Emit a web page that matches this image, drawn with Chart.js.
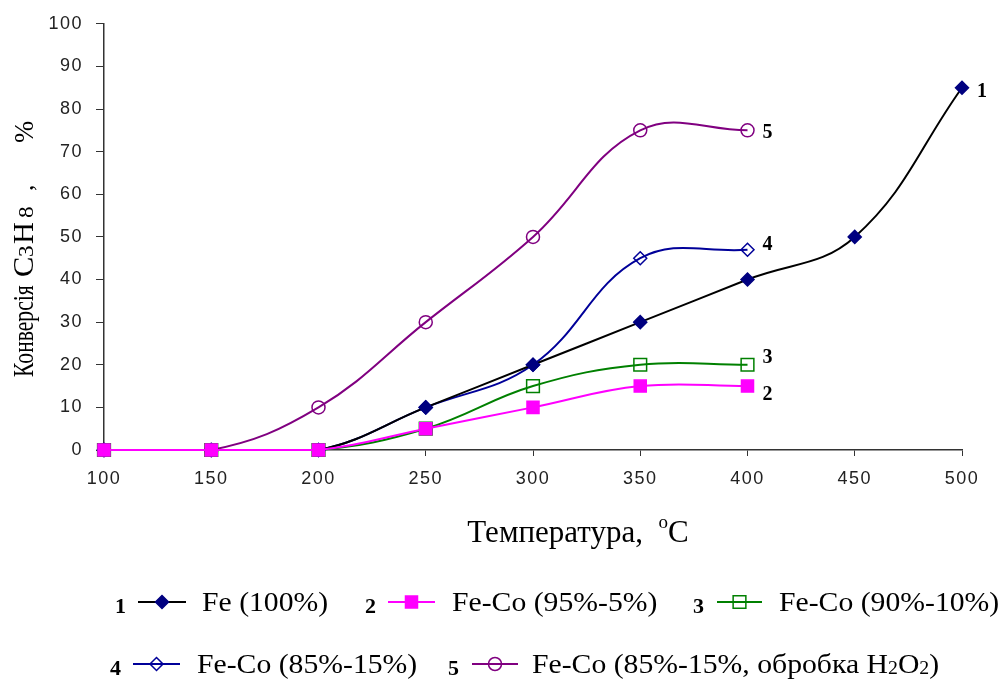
<!DOCTYPE html>
<html>
<head>
<meta charset="utf-8">
<script src="https://cdn.jsdelivr.net/npm/chart.js@4.4.1/dist/chart.umd.min.js"></script>
<style>
  html, body { margin: 0; padding: 0; background: #fff; }
  #wrap { width: 1005px; height: 679px; }
</style>
</head>
<body>
<div id="wrap"><canvas id="chart" width="1005" height="679"></canvas></div>
<script>
// temperatures, °C
const temps = [100, 150, 200, 250, 300, 350, 400, 450, 500];

// conversion of C3H8, %
const fe100 = [0, 0, 0, 10, 20, 30, 40, 50, 85];
const feCo95 = [0, 0, 0, 5, 10, 15, 15];
const feCo90 = [0, 0, 0, 5, 15, 20, 20];
const feCo85 = [0, 0, 0, 10, 20, 45, 47];
const feCo85h2o2 = [0, 0, 10, 30, 50, 75, 75];

const seriesNums = ['1', '2', '3', '4', '5'];
const seriesNames = ['Fe (100%)', 'Fe-Co (95%-5%)', 'Fe-Co (90%-10%)', 'Fe-Co (85%-15%)', 'Fe-Co (85%-15%, обробка H2O2)'];

const xTicks = { min: 100, max: 500, step: 50 };
const yTicks = { min: 0, max: 100, step: 10 };

function pairs(vals) {
    return vals.map((v, i) => ({ x: temps[i], y: v }));
}

const SERIF = '"Liberation Serif", "Times New Roman", serif';
const SANS = '"Liberation Sans", Arial, sans-serif';

const styles = [
    { line: '#000000', mark: '#000080', fill: '#000080', shape: 'rectRot', r: 6.5, order: 1 },
    { line: '#FF00FF', mark: '#FF00FF', fill: '#FF00FF', shape: 'rect', r: 8.5, order: 0 },
    { line: '#008000', mark: '#008000', fill: 'rgba(0,0,0,0)', shape: 'rect', r: 9, order: 3 },
    { line: '#000099', mark: '#000099', fill: 'rgba(0,0,0,0)', shape: 'rectRot', r: 6.5, order: 2 },
    { line: '#800080', mark: '#800080', fill: 'rgba(0,0,0,0)', shape: 'circle', r: 6.5, order: 4 }
];
const seriesData = [fe100, feCo95, feCo90, feCo85, feCo85h2o2];

// nudges for the numbers written after the last point
const endLabelDy = [4, 9, -7, -5, 2];

// draw text made of runs with different sizes (sub/superscripts)
// sx/sy stretch a run, "at" puts a run at a fixed offset
function drawRuns(ctx, x, y, runs, align) {
    let total = 0;
    runs.forEach(r => {
        ctx.font = (r.bold ? 'bold ' : '') + r.size + 'px ' + (r.family || SERIF);
        r.w = ctx.measureText(r.t).width * (r.sx || 1);
        total += r.w;
    });
    let cx = align === 'center' ? x - total / 2 : x;
    ctx.textAlign = 'left';
    ctx.textBaseline = 'alphabetic';
    runs.forEach(r => {
        if (r.at !== undefined) cx = x + r.at;
        ctx.font = (r.bold ? 'bold ' : '') + r.size + 'px ' + (r.family || SERIF);
        ctx.save();
        ctx.translate(cx, y + (r.dy || 0));
        ctx.scale(r.sx || 1, r.sy || 1);
        ctx.fillText(r.t, 0, 0);
        ctx.restore();
        cx += r.w;
    });
}

function drawMarker(ctx, st, x, y) {
    ctx.save();
    ctx.fillStyle = st.fill;
    ctx.strokeStyle = st.mark;
    ctx.lineWidth = 1.5;
    ctx.beginPath();
    if (st.shape === 'circle') {
        ctx.arc(x, y, st.r, 0, Math.PI * 2);
    } else if (st.shape === 'rectRot') {
        ctx.moveTo(x, y - st.r);
        ctx.lineTo(x + st.r, y);
        ctx.lineTo(x, y + st.r);
        ctx.lineTo(x - st.r, y);
        ctx.closePath();
    } else {
        const s = st.r * Math.SQRT1_2;
        ctx.rect(x - s, y - s, 2 * s, 2 * s);
    }
    ctx.fill();
    ctx.stroke();
    ctx.restore();
}

// legend item places
const legendItems = [
    { num: 115, l0: 138, l1: 186, text: 202, row: 0 },
    { num: 365, l0: 388, l1: 435, text: 452, row: 0 },
    { num: 693, l0: 717, l1: 762, text: 779, row: 0 },
    { num: 110, l0: 133, l1: 180, text: 197, row: 1 },
    { num: 448, l0: 472, l1: 518, text: 532, row: 1 }
];
const legendRows = [{ line: 602, base: 611 }, { line: 664, base: 673 }];

const extras = {
    id: 'extras',
    beforeDraw(chart) {
        // tick labels in the original are spaced out a bit
        chart.ctx.letterSpacing = '1.5px';
    },
    afterDraw(chart) {
        const ctx = chart.ctx;
        ctx.letterSpacing = '0px';
        ctx.save();
        ctx.fillStyle = '#000';

        // y title, written bottom to top
        ctx.save();
        ctx.translate(33, 377);
        ctx.rotate(-Math.PI / 2);
        drawRuns(ctx, 0, 0, [
            { t: 'Конверсія', size: 30, sx: 0.72, at: 0 },
            { t: 'C', size: 29, sx: 1.05, at: 100 },
            { t: '3', size: 22, sx: 1.05, at: 120 },
            { t: 'H', size: 29, sx: 1.05, at: 133 },
            { t: '8', size: 22, sx: 1.05, at: 159 },
            { t: ',', size: 26, at: 186 },
            { t: '%', size: 28, sx: 0.95, at: 234 }
        ], 'left');
        ctx.restore();

        // x title
        drawRuns(ctx, 578, 542, [
            { t: 'Температура,  ', size: 31 },
            { t: 'o', size: 19, dy: -14 },
            { t: 'C', size: 31 }
        ], 'center');

        // numbers at the end of each curve
        chart.data.datasets.forEach((ds, i) => {
            const pts = chart.getDatasetMeta(i).data;
            const p = pts[pts.length - 1];
            ctx.font = 'bold 20px ' + SERIF;
            ctx.textAlign = 'left';
            ctx.textBaseline = 'middle';
            ctx.fillText(seriesNums[i], p.x + 15, p.y + endLabelDy[i]);
        });

        // legend
        legendItems.forEach((it, i) => {
            const row = legendRows[it.row];
            const st = styles[i];
            ctx.font = 'bold 22px ' + SERIF;
            ctx.textAlign = 'left';
            ctx.textBaseline = 'alphabetic';
            ctx.fillStyle = '#000';
            ctx.fillText(seriesNums[i], it.num, row.base + 2);
            ctx.strokeStyle = st.line;
            ctx.lineWidth = 2;
            ctx.beginPath();
            ctx.moveTo(it.l0, row.line);
            ctx.lineTo(it.l1, row.line);
            ctx.stroke();
            drawMarker(ctx, st, (it.l0 + it.l1) / 2, row.line);
            ctx.fillStyle = '#000';
            const name = seriesNames[i];
            if (name.endsWith('H2O2)')) {
                drawRuns(ctx, it.text, row.base, [
                    { t: name.slice(0, -5), size: 27, sx: 1.1 },
                    { t: 'H', size: 27, sx: 1.1 },
                    { t: '2', size: 18, sx: 1.1, dy: 1 },
                    { t: 'O', size: 27, sx: 1.1 },
                    { t: '2', size: 18, sx: 1.1, dy: 1 },
                    { t: ')', size: 27, sx: 1.1 }
                ], 'left');
            } else {
                drawRuns(ctx, it.text, row.base, [{ t: name, size: 27, sx: 1.1 }], 'left');
            }
        });
        ctx.restore();
    }
};

const ctx = document.getElementById('chart').getContext('2d');
const chart = new Chart(ctx, {
    type: 'line',
    data: {
        datasets: seriesData.map((vals, i) => ({
            label: seriesNames[i],
            data: pairs(vals),
            borderColor: styles[i].line,
            borderWidth: 2,
            tension: 0.4,
            pointStyle: styles[i].shape,
            pointRadius: styles[i].r,
            pointBorderColor: styles[i].mark,
            pointBackgroundColor: styles[i].fill,
            pointBorderWidth: 1.5,
            fill: false,
            clip: false,
            order: styles[i].order
        }))
    },
    options: {
        responsive: false,
        animation: false,
        layout: { padding: { top: 17, right: 43, bottom: 0, left: 0 } },
        plugins: {
            legend: { display: false },
            tooltip: { enabled: false }
        },
        scales: {
            x: {
                type: 'linear',
                min: xTicks.min,
                max: xTicks.max,
                afterFit: s => { s.height = 229; },
                ticks: {
                    stepSize: xTicks.step,
                    color: '#222',
                    padding: 12,
                    font: { family: SANS, size: 18 }
                },
                grid: { drawOnChartArea: false, drawTicks: true, tickLength: 6, color: '#333', lineWidth: 1 },
                border: { color: '#333', width: 1.5 }
            },
            y: {
                min: yTicks.min,
                max: yTicks.max,
                afterFit: s => { s.width = 104; },
                ticks: {
                    stepSize: yTicks.step,
                    color: '#222',
                    padding: 13,
                    font: { family: SANS, size: 18 }
                },
                grid: { drawOnChartArea: false, drawTicks: true, tickLength: 8, color: '#333', lineWidth: 1 },
                border: { color: '#333', width: 1.5 }
            }
        }
    },
    plugins: [extras]
});
</script>
</body>
</html>
